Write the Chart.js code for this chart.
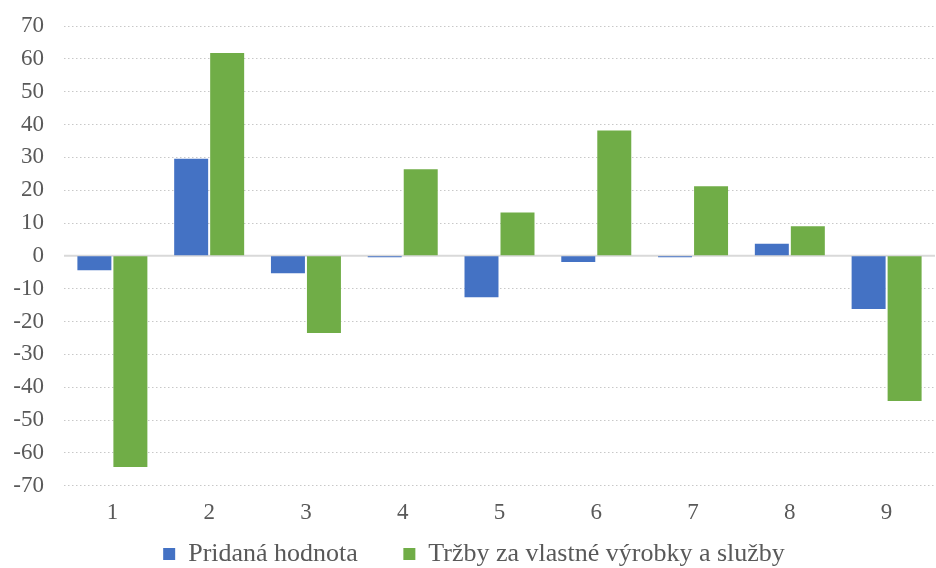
<!DOCTYPE html>
<html>
<head>
<meta charset="utf-8">
<script src="https://cdn.jsdelivr.net/npm/chart.js@4/dist/chart.umd.min.js"></script>
<style>
  html, body { margin: 0; padding: 0; background: #fff; }
  #wrap { width: 936px; height: 568px; }
</style>
</head>
<body>
<div id="wrap"><canvas id="chart"></canvas></div>
<script>
const categories = ['1', '2', '3', '4', '5', '6', '7', '8', '9'];
const seriesNames = ['Pridaná hodnota', 'Tržby za vlastné výrobky a služby'];
const addedValue = [-4.4, 29.6, -5.3, -0.4, -12.6, -1.9, -0.4, 3.7, -16.2];
const sales = [-64.3, 61.8, -23.5, 26.4, 13.2, 38.2, 21.2, 9.0, -44.2];
const yTicks = [-70, -60, -50, -40, -30, -20, -10, 0, 10, 20, 30, 40, 50, 60, 70];

const serif = "'Liberation Serif', 'Times New Roman', serif";

// solid line at zero
const zeroLine = {
    id: 'zeroLine',
    beforeDatasetsDraw(chart) {
        const { ctx, chartArea, scales } = chart;
        const y = scales.y.getPixelForValue(0);
        ctx.save();
        ctx.strokeStyle = '#d9d9d9';
        ctx.lineWidth = 2;
        ctx.beginPath();
        ctx.moveTo(chartArea.left, y);
        ctx.lineTo(chartArea.right, y);
        ctx.stroke();
        ctx.restore();
    }
};

new Chart(document.getElementById('chart'), {
    type: 'bar',
    data: {
        labels: categories,
        datasets: [
            {
                label: seriesNames[0],
                data: addedValue,
                backgroundColor: '#4472c4'
            },
            {
                label: seriesNames[1],
                data: sales,
                backgroundColor: '#70ad47'
            }
        ]
    },
    options: {
        responsive: true,
        maintainAspectRatio: false,
        animation: false,
        datasets: {
            bar: { categoryPercentage: 0.744, barPercentage: 0.944 }
        },
        layout: { padding: { left: 13, right: 1, top: 26, bottom: -9 } },
        plugins: {
            legend: {
                position: 'bottom',
                labels: {
                    font: { family: serif, size: 26 },
                    color: '#595959',
                    boxWidth: 12,
                    boxHeight: 12,
                    padding: 0,
                    generateLabels(chart) {
                        const items = Chart.defaults.plugins.legend.labels.generateLabels(chart);
                        items.forEach((it, i) => {
                            if (i < items.length - 1) it.text += '       ';
                        });
                        return items;
                    }
                }
            },
            tooltip: { enabled: false }
        },
        scales: {
            x: {
                grid: { display: false, drawTicks: false },
                border: { display: false },
                ticks: {
                    font: { family: serif, size: 23, lineHeight: 1.1 },
                    color: '#595959',
                    padding: 15
                }
            },
            y: {
                min: -70,
                max: 70,
                afterBuildTicks(axis) {
                    axis.ticks = yTicks.map(v => ({ value: v }));
                },
                afterFit(axis) { axis.width = 51; },
                grid: {
                    color: '#c8c8c8',
                    lineWidth: 1,
                    drawTicks: false
                },
                border: { display: false, dash: [1.5, 2.5] },
                ticks: {
                    font: { family: serif, size: 23, lineHeight: 0.4 },
                    color: '#595959',
                    padding: 20,
                    autoSkip: false
                }
            }
        }
    },
    plugins: [zeroLine]
});
</script>
</body>
</html>
